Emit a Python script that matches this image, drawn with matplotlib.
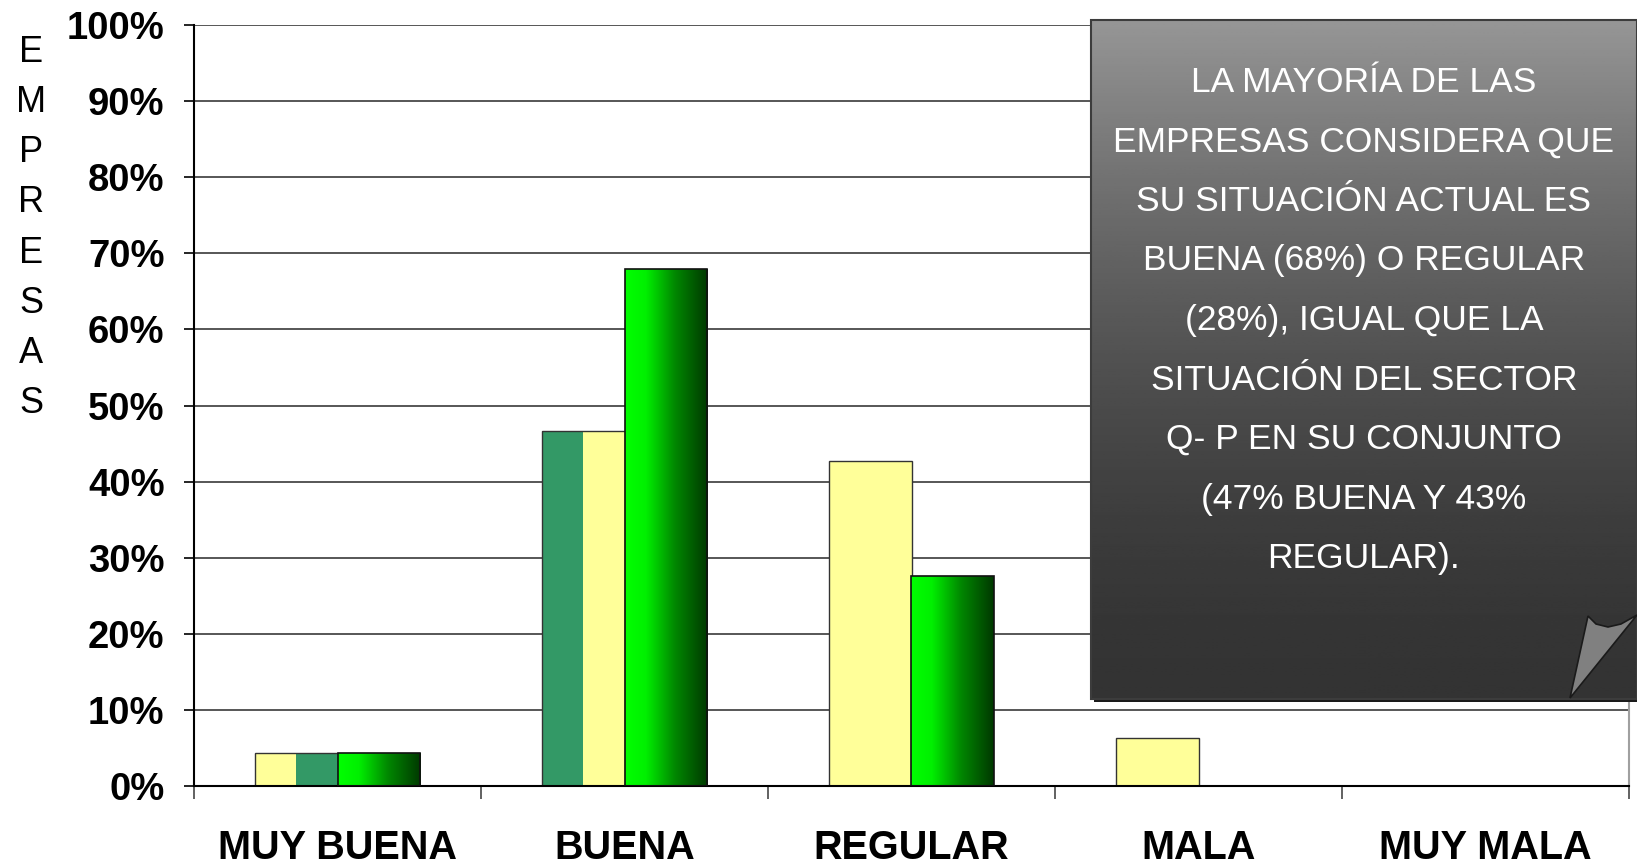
import numpy as np
import matplotlib
matplotlib.use("Agg")
import matplotlib.pyplot as plt
from matplotlib.colors import LinearSegmentedColormap
from matplotlib.patches import Rectangle, Polygon
from matplotlib.ticker import PercentFormatter

plt.rcParams["font.family"] = ["Liberation Sans", "DejaVu Sans"]

# data
categories = ["MUY BUENA", "BUENA", "REGULAR", "MALA", "MUY MALA"]
sector_qp = [0.043, 0.467, 0.427, 0.063, 0.0]
empresas = [0.043, 0.68, 0.276, 0.0, 0.0]
y_ticks = [0, 0.1, 0.2, 0.3, 0.4, 0.5, 0.6, 0.7, 0.8, 0.9, 1.0]
y_label = "EMPRESAS"
note_lines = [
    "LA MAYORÍA DE LAS",
    "EMPRESAS CONSIDERA QUE",
    "SU SITUACIÓN ACTUAL ES",
    "BUENA (68%) O REGULAR",
    "(28%), IGUAL QUE LA",
    "SITUACIÓN DEL SECTOR",
    "Q- P EN SU CONJUNTO",
    "(47% BUENA Y 43%",
    "REGULAR).",
]

# styles
YELLOW = "#ffff99"
SEA = "#339966"
left_col = [YELLOW, SEA, YELLOW, YELLOW, YELLOW]
right_col = [SEA, YELLOW, YELLOW, YELLOW, YELLOW]
greens = LinearSegmentedColormap.from_list(
    "greens", [(0, "#00ff00"), (0.25, "#00f000"), (0.6, "#008800"), (1, "#003800")])

W, H = 1637, 868
fig = plt.figure(figsize=(W / 100, H / 100), dpi=100)
ax = fig.add_axes([194 / W, 1 - 786 / H, 1435 / W, 761 / H])

x = np.arange(len(categories))
slot = 0.143

v1 = np.array(sector_qp)
m1 = v1 > 0
ax.bar(x[m1] - 1.5 * slot, v1[m1], slot, color=np.array(left_col)[m1], lw=0)
ax.bar(x[m1] - 0.5 * slot, v1[m1], slot, color=np.array(right_col)[m1], lw=0)
ax.bar(x[m1] - slot, v1[m1], 2 * slot, facecolor="none", edgecolor="#333333", lw=1)

v2 = np.array(empresas)
m2 = v2 > 0
bars = ax.bar(x[m2] + slot, v2[m2], 2 * slot, facecolor="none",
              edgecolor="#111111", lw=1.2, zorder=3)
grad = np.linspace(0, 1, 256).reshape(1, -1)
for b in bars:
    im = ax.imshow(grad, cmap=greens, aspect="auto", zorder=2.5,
                   extent=(b.get_x(), b.get_x() + b.get_width(), 0, b.get_height()))
    im.set_clip_path(b)

ax.set_xlim(-0.5, len(categories) - 0.5)
ax.set_ylim(0, 1)

# axes styling
ax.set_xticks(x, categories, fontweight="bold")
ax.set_xticks(np.arange(len(categories) + 1) - 0.5, minor=True)
ax.tick_params(axis="x", which="major", length=0, pad=31, labelsize=28.5)
ax.tick_params(axis="x", which="minor", length=9.4, width=1.3, color="#555555")
ax.set_yticks(y_ticks)
ax.yaxis.set_major_formatter(PercentFormatter(1, decimals=0))
ax.tick_params(axis="y", length=7.2, width=1.2, pad=14, labelsize=27.5)
for lab in ax.get_yticklabels():
    lab.set_fontweight("bold")
ax.yaxis.grid(True, color="#3a3a3a", lw=1.2)
ax.set_axisbelow(True)
ax.spines["top"].set_visible(False)
ax.spines["right"].set_color("#a0a0a0")
ax.spines["right"].set_linewidth(1.5)
for s in ("left", "bottom"):
    ax.spines[s].set_linewidth(1.5)

fig.text(31 / W, 1 - 228 / H, "\n".join(y_label), ha="center", va="center",
         fontsize=26, linespacing=1.56)

# note box
bw, bh = 546, 679
bx = fig.add_axes([1091 / W, 1 - 699 / H, bw / W, bh / H])
bx.set_zorder(5)
bx.set_xlim(0, bw)
bx.set_ylim(bh, 0)
bx.axis("off")
gy = np.linspace(0, 1, 256)[:, None]
shade = (51 + 99 * (1 - gy) ** 1.7) / 255
bx.imshow(shade, cmap="gray", vmin=0, vmax=1, extent=(0, bw, bh, 0), aspect="auto", zorder=1)
bx.add_patch(Rectangle((3, 3), bw, bh, fc="#1a1a1a", ec="none", zorder=0, clip_on=False))
bx.add_patch(Rectangle((0, 0), bw, bh, fill=False, ec="#3c3c3c", lw=1.5, zorder=2, clip_on=False))
bx.add_patch(Polygon([(479, 678), (497, 596), (505, 604), (517, 607), (530, 604), (546, 595)],
                     closed=True, fc="#808080", ec="#1a1a1a", lw=1.2, zorder=3, clip_on=False))
bx.text(bw / 2, 300.5, "\n".join(note_lines), color="white", ha="center", va="center",
        fontsize=25.5, linespacing=2.02, zorder=4)

fig.savefig("out.png", dpi=100)
